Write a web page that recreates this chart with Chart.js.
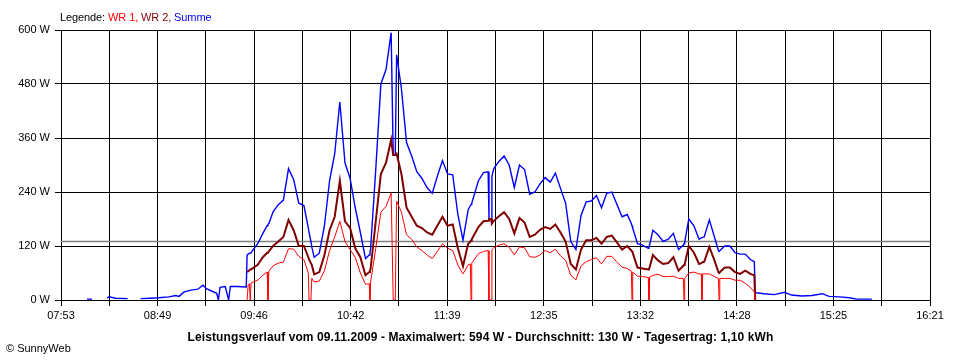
<!DOCTYPE html>
<html>
<head>
<meta charset="utf-8">
<script src="https://cdn.jsdelivr.net/npm/chart.js@4"></script>
<style>
  html, body { margin:0; padding:0; background:#fff; }
  #wrap { position:relative; width:960px; height:360px; overflow:hidden; background:#fff; }
  canvas { position:absolute; left:0; top:0; }
  .txt { position:absolute; font-family:"Liberation Sans", Arial, sans-serif; white-space:nowrap; color:#000; }
  #legend { left:60px; top:11px; font-size:11px; line-height:13px; letter-spacing:-0.1px; }
  #title { left:0; width:961px; text-align:center; top:330px; font-size:12px; line-height:14px; font-weight:bold; letter-spacing:0.1px; }
  #copy { left:6px; top:342px; font-size:11px; line-height:13px; }
</style>
</head>
<body>
<div id="wrap">
  <canvas id="c" width="960" height="360"></canvas>
  <div class="txt" id="legend">Legende: <span style="color:#ff0000">WR 1,</span> <span style="color:#800000">WR 2,</span> <span style="color:#0000ff">Summe</span></div>
  <div class="txt" id="title">Leistungsverlauf vom 09.11.2009 - Maximalwert: 594 W - Durchschnitt: 130 W - Tagesertrag: 1,10 kWh</div>
  <div class="txt" id="copy">© SunnyWeb</div>
</div>
<script>
// time of day in minutes since midnight
const times = [
  488.2,491.1,493,500,501,505,512,515,519.5,525,
  530,536,540,542,545,549,553,556,558,561,
  564,565,566,569,571,572,576,581.3,
  581.8,582.4,583.2,583.6,584.1,588,591,593.5,594,594.5,
  597,600,603,606,609,612,615,617.6,618,619.1,
  619.6,621,624,627,630,633,636,639,642,645,
  648,651,653.2,653.6,654,657,660,663,666,667.2,
  668.4,669.2,672,675,678,681,684,687,690,693,
  696,699,702,705,708,711,712.3,712.7,713.1,717,
  720,722.7,723.2,724.4,724.9,726,729,732,735,738,
  741,744,747,750,753,756,759,762,765,768,
  771,774,777,780,783,786,789,792,795,798,
  801,804,806.4,806.8,807.2,810,813,816.3,816.7,817.1,
  819,822,825,828,831,834,836.8,837.2,837.6,840,
  843,846,847.3,847.7,848.1,849,852,855,857.3,857.7,
  858.1,861,864,867,870,873,876,878.3,878.8,
  879.5,884,890,896,900,906,912,918,922,928,934,938,947
];
// Summe (W)
const summe = [
  2,2,null,4,7,4,3,null,3,4,
  5,7,10,8,18,22,24,33,25,20,
  15,0,28,30,0,30,30,29,
  100,102,104,104,105,125,148,165,168,170,
  196,212,222,292,268,215,210,160,150,130,
  118,95,104,165,265,325,440,305,270,205,
  150,92,100,105,115,290,480,512,594,322,
  322,545,470,350,320,285,270,250,237,275,
  310,280,278,190,133,200,210,212,215,265,
  283,285,180,180,275,292,308,320,300,250,
  300,290,235,240,258,272,262,282,248,215,
  130,112,188,218,220,232,205,237,240,212,
  185,190,170,165,160,125,122,115,118,122,
  155,145,130,135,148,112,122,125,128,180,
  165,135,138,138,139,140,178,140,110,108,
  108,120,120,105,102,102,90,85,18,
  16,14,12,17,11,9,10,14,8,7,5,2,2
];
// WR 2 (W)
const wr2 = [
  null,null,null,null,null,null,null,null,null,null,
  null,null,null,null,null,null,null,null,null,null,
  null,null,null,null,null,null,null,null,
  62,64,66,68,68,78,95,105,106,108,
  120,130,140,178,155,120,120,95,90,82,
  78,57,62,100,155,185,265,175,160,115,
  95,55,62,65,70,175,280,305,356,322,
  322,325,280,205,185,165,160,150,145,165,
  185,165,168,115,75,125,130,132,135,162,
  175,176,180,180,170,176,186,195,180,148,
  182,172,140,145,156,162,158,168,150,130,
  80,68,112,133,133,138,125,140,143,128,
  112,120,110,108,105,72,70,68,70,72,
  100,88,80,82,95,65,76,78,80,120,
  105,80,82,82,84,85,118,88,62,60,
  60,72,72,62,58,65,58,55,0,
  null,null,null,null,null,null,null,null,null,null,null,null,null
];
// WR 1 (W)
const wr1 = [
  null,null,null,null,null,null,null,null,null,null,
  null,null,null,null,null,null,null,null,null,null,
  null,null,null,null,null,null,null,null,
  0,33,36,0,38,44,55,62,0,64,
  76,82,84,114,113,97,90,60,0,0,
  48,40,42,65,110,140,175,130,112,95,
  60,35,36,0,40,115,195,208,238,0,
  0,220,195,145,135,118,110,100,92,108,
  125,115,110,78,58,78,80,0,82,103,
  108,110,0,0,112,116,122,125,117,100,
  118,116,96,95,100,110,105,113,98,88,
  55,45,76,85,90,94,80,97,97,84,
  73,70,64,0,62,53,52,50,0,51,
  55,57,52,52,53,48,48,0,48,60,
  62,58,58,0,58,58,58,52,48,0,
  48,48,48,44,44,37,28,18,0,
  null,null,null,null,null,null,null,null,null,null,null,null,null
];
const average = 130;               // Durchschnitt (W)
const xStart = 473, xEnd = 981;    // 07:53 .. 16:21
const xGridCount = 18;
const xTickLabels = ['07:53','08:49','09:46','10:42','11:39','12:35','13:32','14:28','15:25','16:21'];
const yTicks = [0,120,240,360,480,600];

const pts = arr => times.map((t,i) => ({x:t, y:arr[i]}));

Chart.defaults.font.family = '"Liberation Sans", Arial, sans-serif';
Chart.defaults.font.size = 11;
Chart.defaults.color = '#000';

new Chart(document.getElementById('c'), {
  type: 'line',
  data: {
    datasets: [
      { label:'WR 1', data: pts(wr1), borderColor:'#ff0000', borderWidth:1, pointRadius:0, spanGaps:false, order:1 },
      { label:'WR 2', data: pts(wr2), borderColor:'#800000', borderWidth:2, pointRadius:0, spanGaps:false, order:2 },
      { label:'Summe', data: pts(summe), borderColor:'#0000ff', borderWidth:1.4, pointRadius:0, spanGaps:false, order:3 },
      { label:'Durchschnitt', data: [{x:xStart,y:average},{x:xEnd,y:average}], borderColor:'#808080', borderWidth:1.5, pointRadius:0, order:4 }
    ]
  },
  options: {
    responsive:false, animation:false, devicePixelRatio:1,
    layout:{ padding:{ left:0, right:30, top:30, bottom:0 } },
    plugins:{ legend:{display:false}, tooltip:{enabled:false}, title:{display:false} },
    elements:{ line:{ tension:0, borderCapStyle:'butt', borderJoinStyle:'miter' } },
    scales:{
      x:{
        type:'linear', min:xStart, max:xEnd,
        afterBuildTicks: s => { const a=[]; for (let i=0;i<=xGridCount;i++) a.push({value: xStart + (xEnd-xStart)*i/xGridCount}); s.ticks = a; },
        afterFit: s => { s.height = 60; },
        ticks:{ autoSkip:false, maxRotation:0, minRotation:0, padding:3, color:'#000',
          callback:(v,i) => (i % 2 === 0) ? xTickLabels[i/2] : '' },
        grid:{ color:'#000', lineWidth:1, tickLength:6, drawTicks:true },
        border:{ color:'#000', width:1 }
      },
      y:{
        min:0, max:600,
        afterBuildTicks: s => { s.ticks = yTicks.map(v => ({value:v})); },
        afterFit: s => { s.width = 61; },
        ticks:{ padding:5, color:'#000', callback: v => v + ' W' },
        grid:{ color:'#000', lineWidth:1, tickLength:6, drawTicks:true },
        border:{ color:'#000', width:1 }
      }
    }
  }
});
</script>
</body>
</html>
